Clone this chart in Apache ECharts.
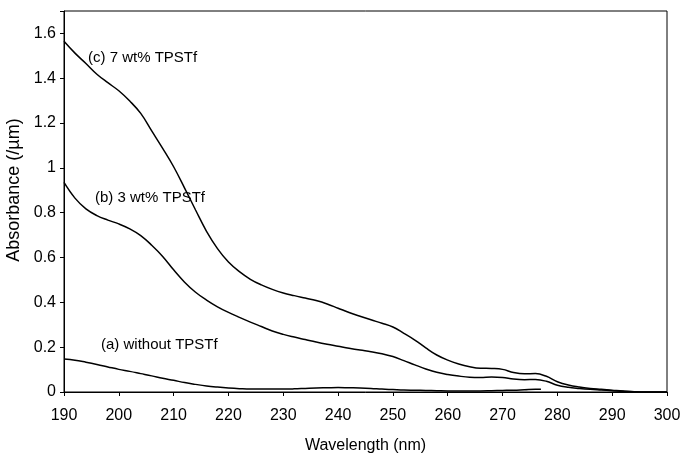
<!DOCTYPE html>
<html>
<head>
<meta charset="utf-8">
<script src="https://cdn.jsdelivr.net/npm/echarts@6/dist/echarts.min.js"></script>
<style>
html,body{margin:0;padding:0;background:#fff;}
#chart{width:680px;height:454px;}
</style>
</head>
<body>
<div id="chart"></div>
<script>
var wavelengths = [190,192,194,196,198,200,202,204,206,208,210,212,214,216,218,220,222,224,226,228,230,232,234,236,238,240,242,244,246,248,250,252,254,256,258,260,262,264,266,268,270,272,274,276,278,280,282,284,286,288,290,292,294,296,298,300];
var seriesC = [1.565,1.512,1.466,1.418,1.38,1.344,1.298,1.243,1.165,1.087,1.005,0.91,0.812,0.717,0.64,0.58,0.537,0.503,0.478,0.458,0.442,0.43,0.419,0.408,0.393,0.374,0.355,0.338,0.322,0.307,0.29,0.262,0.232,0.197,0.165,0.142,0.125,0.113,0.106,0.105,0.101,0.087,0.081,0.082,0.07,0.046,0.031,0.022,0.016,0.012,0.008,0.004,0.001,0,0,0];
var seriesB = [0.935,0.865,0.817,0.787,0.767,0.75,0.728,0.698,0.655,0.605,0.545,0.49,0.445,0.41,0.38,0.355,0.333,0.312,0.292,0.272,0.257,0.245,0.234,0.223,0.213,0.204,0.195,0.187,0.18,0.171,0.158,0.14,0.121,0.103,0.088,0.078,0.071,0.066,0.065,0.067,0.065,0.058,0.055,0.056,0.048,0.03,0.021,0.016,0.012,0.009,0.006,0.003,0.001,0,0,0];
var wavelengthsA = [190,192,194,196,198,200,202,204,206,208,210,212,214,216,218,220,222,224,226,228,230,232,234,236,238,240,242,244,246,248,250,252,254,256,258,260,262,264,266,268,270,272,274,276,277];
var seriesA = [0.147,0.142,0.133,0.123,0.112,0.101,0.092,0.082,0.072,0.061,0.052,0.042,0.034,0.027,0.022,0.018,0.015,0.013,0.013,0.013,0.013,0.014,0.016,0.018,0.019,0.02,0.019,0.018,0.016,0.013,0.011,0.009,0.008,0.007,0.006,0.005,0.005,0.005,0.005,0.006,0.007,0.008,0.01,0.012,0.012];
var seriesNames = ['(c) 7 wt% TPSTf','(b) 3 wt% TPSTf','(a) without TPSTf'];
var xTicks = {min:190, max:300, step:10};
var yTicks = {min:0, max:1.7, step:0.2};

function pairs(xs, ys){ return xs.map(function(x,i){ return [x, ys[i]]; }); }

var font = 'Liberation Sans, Arial, sans-serif';
var chart = echarts.init(document.getElementById('chart'), null, {renderer:'canvas'});
var lineStyle = {color:'#000', width:1.5};
chart.setOption({
  animation:false,
  backgroundColor:'#fff',
  grid:{left:64, right:13, top:11, bottom:62, show:true, borderColor:'#000', borderWidth:1, outerBoundsMode:'none', containLabel:false},
  xAxis:{
    type:'value', min:xTicks.min, max:xTicks.max, interval:xTicks.step,
    name:'Wavelength (nm)', nameLocation:'middle', nameGap:46,
    nameTextStyle:{fontFamily:font, fontSize:16, color:'#000'},
    axisLine:{show:true, onZero:false, lineStyle:{color:'#000', width:1}},
    axisTick:{show:true, inside:false, length:4, lineStyle:{color:'#000'}},
    axisLabel:{fontFamily:font, fontSize:16, color:'#000', margin:16},
    splitLine:{show:false}
  },
  yAxis:{
    type:'value', min:yTicks.min, max:yTicks.max, interval:yTicks.step,
    name:'Absorbance (/\u00b5m)', nameLocation:'middle', nameGap:34,
    nameTextStyle:{fontFamily:font, fontSize:18, color:'#000', padding:[0,0,0,23]},
    axisLine:{show:true, lineStyle:{color:'#000', width:1}},
    axisTick:{show:true, inside:false, length:4, lineStyle:{color:'#000'}},
    axisLabel:{fontFamily:font, fontSize:16, color:'#000', margin:8,
      formatter:function(v){ var r = Math.round(v*10); if (r % 2 !== 0) return ''; return String(Math.round(v*10)/10); }},
    splitLine:{show:false}
  },
  series:[
    {name:seriesNames[0], type:'line', data:pairs(wavelengths, seriesC), smooth:0.4, showSymbol:false, lineStyle:lineStyle},
    {name:seriesNames[1], type:'line', data:pairs(wavelengths, seriesB), smooth:0.4, showSymbol:false, lineStyle:lineStyle},
    {name:seriesNames[2], type:'line', data:pairs(wavelengthsA, seriesA), smooth:0.4, showSymbol:false, lineStyle:lineStyle}
  ],
  graphic:[
    {type:'text', left:88, top:50, style:{text:seriesNames[0], font:'15px ' + font, fill:'#000'}},
    {type:'text', left:95, top:190, style:{text:seriesNames[1], font:'15px ' + font, fill:'#000'}},
    {type:'text', left:101, top:337, style:{text:seriesNames[2], font:'15px ' + font, fill:'#000'}}
  ]
});
</script>
</body>
</html>
